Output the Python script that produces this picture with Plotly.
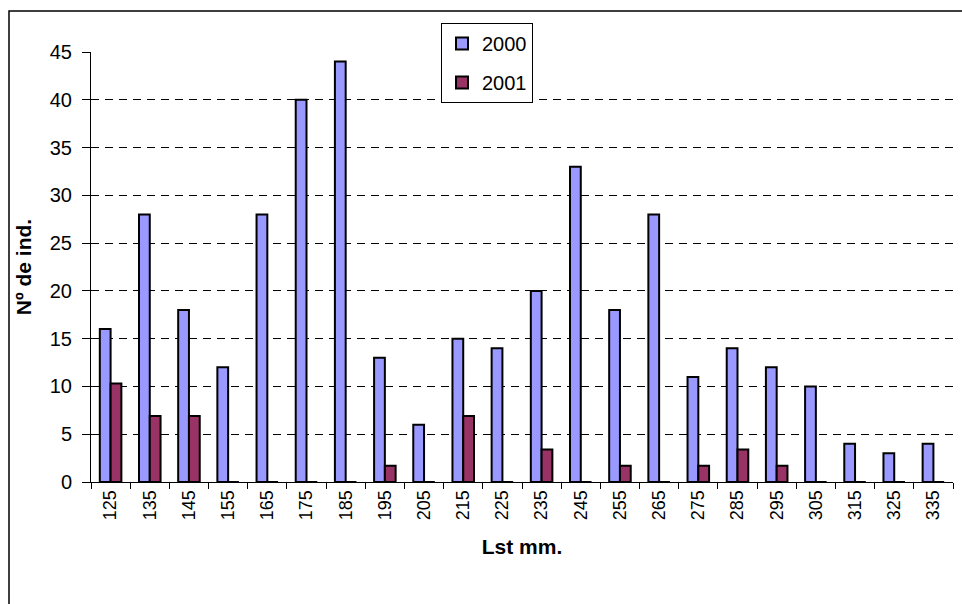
import plotly.graph_objects as go

categories = ["125", "135", "145", "155", "165", "175", "185", "195", "205", "215", "225",
              "235", "245", "255", "265", "275", "285", "295", "305", "315", "325", "335"]
values_2000 = [16, 28, 18, 12, 28, 40, 44, 13, 6, 15, 14, 20, 33, 18, 28, 11, 14, 12, 10, 4, 3, 4]
values_2001 = [10.3, 6.9, 6.9, 0, 0, 0, 0, 1.7, 0, 6.9, 0, 3.4, 0, 1.7, 0, 1.7, 3.4, 1.7, 0, 0, 0, 0]
y_ticks = [0, 5, 10, 15, 20, 25, 30, 35, 40, 45]

FONT = "Liberation Sans, Arial, sans-serif"

fig = go.Figure()
fig.add_trace(go.Bar(x=categories, y=values_2000, name="2000", legendgroup="a",
                     marker=dict(color="#9999FF", line=dict(color="black", width=2))))
fig.add_trace(go.Bar(x=categories, y=values_2001, name="2001", legendgroup="b",
                     marker=dict(color="#993366", line=dict(color="black", width=2))))

L, R, T, B = 91, 9, 52, 122
W, H = 962, 604
pw, ph = W - L - R, H - T - B

def px_x(p):
    return (p - L) / pw

def px_y(p):
    return (H - B - p) / ph

fig.update_layout(
    width=W, height=H,
    margin=dict(l=L, r=R, t=T, b=B, pad=0),
    paper_bgcolor="white", plot_bgcolor="white",
    barmode="group", bargap=0.45, bargroupgap=0,
    font=dict(family=FONT, color="black"),
    legend=dict(x=px_x(441), y=px_y(23), xanchor="left", yanchor="top",
                bgcolor="white", bordercolor="black", borderwidth=1,
                font=dict(size=20, family=FONT), traceorder="grouped",
                tracegroupgap=10, itemwidth=30),
    xaxis=dict(type="category", tickson="boundaries", ticks="outside", ticklen=6,
               tickcolor="black", showline=True, linecolor="black", linewidth=1,
               tickangle=-90, tickfont=dict(size=18, family=FONT),
               title=dict(text="<b>Lst mm.</b>", font=dict(size=21, family=FONT), standoff=20),
               showgrid=False),
    yaxis=dict(range=[0, 45], tickvals=y_ticks, ticks="outside", ticklen=8,
               tickcolor="black", showline=True, linecolor="black", linewidth=1,
               tickfont=dict(size=20, family=FONT), ticklabelstandoff=6,
               showgrid=True, gridcolor="black", gridwidth=1, griddash="8px,6px",
               zeroline=False,
               title=dict(text="<b>Nº de ind.</b>", font=dict(size=21, family=FONT), standoff=12)),
    shapes=[dict(type="rect", xref="paper", yref="paper",
                 x0=px_x(9), y0=px_y(11), x1=px_x(980), y1=px_y(640),
                 line=dict(color="black", width=1.5), fillcolor="rgba(0,0,0,0)", layer="below")],
)

fig.write_html("out.html")
